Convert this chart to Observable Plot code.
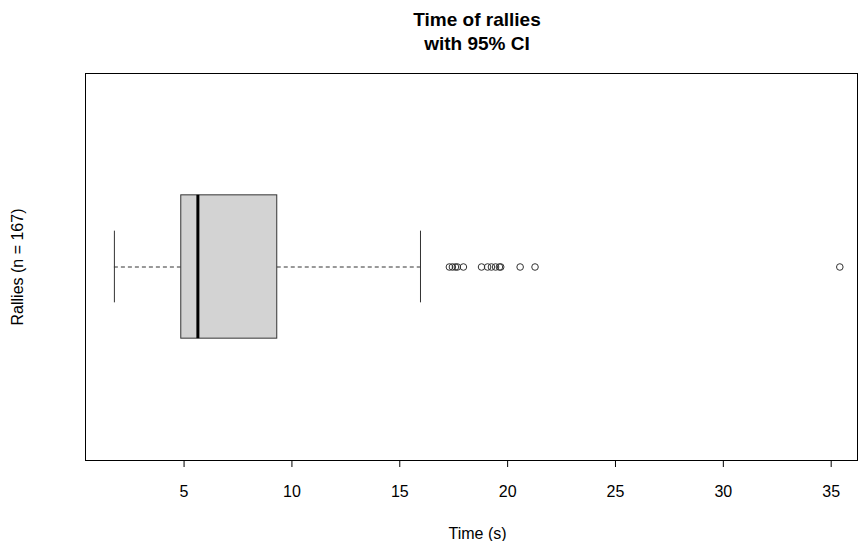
<!DOCTYPE html>
<html>
<head>
<meta charset="utf-8">
<script src="https://cdn.jsdelivr.net/npm/d3@7"></script>
<script src="https://cdn.jsdelivr.net/npm/@observablehq/plot@0.6"></script>
<style>
  html, body { margin: 0; padding: 0; background: #fff; overflow: hidden; }
  #wrap { position: relative; width: 858px; height: 541px; font-family: "Liberation Sans", Arial, sans-serif; }
  #title { position: absolute; left: 96px; width: 762px; top: 8px; text-align: center;
           font-weight: bold; font-size: 19px; line-height: 24px; color: #000; }
  #chart { position: absolute; left: 0; top: 0; }
</style>
</head>
<body>
<div id="wrap">
  <div id="chart"></div>
  <div id="title">Time of rallies<br>with 95% CI</div>
</div>
<script>
// Box statistics (seconds)
const statNames = ["lowerWhisker", "q1", "median", "q3", "upperWhisker"];
const statValues = [1.77, 4.87, 5.64, 9.32, 15.96];
// Outliers (seconds)
const outliers = [17.30, 17.44, 17.58, 17.67, 17.95, 18.79, 19.07, 19.25, 19.44, 19.62, 19.68, 20.58, 21.27, 35.40];
const xTicks = [5, 10, 15, 20, 25, 30, 35];
const xLabel = "Time (s)";
const yLabel = "Rallies (n = 167)";

const s = Object.fromEntries(statNames.map((k, i) => [k, statValues[i]]));
const box = [{ ...s, y: 1 }];
const outData = outliers.map(v => ({ x: v, y: 1 }));
const ink = "#333";

const plot = Plot.plot({
  width: 858,
  height: 541,
  marginLeft: 85,
  marginRight: 1,
  marginTop: 73,
  marginBottom: 81,
  style: { fontFamily: "'Liberation Sans', Arial, sans-serif", fontSize: "16px", color: "#000", background: "#fff" },
  x: { domain: [0.43, 36.22], ticks: xTicks, tickSize: 7, tickPadding: 18, label: null },
  y: { domain: [0.46, 1.54], axis: null },
  marks: [
    Plot.frame({ stroke: "#000" }),
    Plot.ruleY(box, { x1: "lowerWhisker", x2: "q1", y: "y", stroke: ink, strokeDasharray: "4,3" }),
    Plot.ruleY(box, { x1: "q3", x2: "upperWhisker", y: "y", stroke: ink, strokeDasharray: "4,3" }),
    Plot.ruleX(box, { x: "lowerWhisker", y1: d => d.y - 0.1, y2: d => d.y + 0.1, stroke: ink }),
    Plot.ruleX(box, { x: "upperWhisker", y1: d => d.y - 0.1, y2: d => d.y + 0.1, stroke: ink }),
    Plot.rect(box, { x1: "q1", x2: "q3", y1: d => d.y - 0.2, y2: d => d.y + 0.2, fill: "#d3d3d3", stroke: ink }),
    Plot.ruleX(box, { x: "median", y1: d => d.y - 0.2, y2: d => d.y + 0.2, stroke: "#000", strokeWidth: 3 }),
    Plot.dot(outData, { x: "x", y: "y", r: 3.3, stroke: ink, fill: "none", strokeWidth: 1 }),
    Plot.axisX({ ticks: xTicks, tickSize: 7, tickPadding: 18, stroke: "#000", fontSize: 16, label: null }),
    Plot.text([xLabel], { frameAnchor: "bottom", dx: 6, dy: 78, fontSize: 16, fill: "#000" }),
    Plot.text([yLabel], { frameAnchor: "left", dx: -68, rotate: -90, textAnchor: "middle", fontSize: 16, fill: "#000" })
  ]
});
document.getElementById("chart").appendChild(plot);
</script>
</body>
</html>
